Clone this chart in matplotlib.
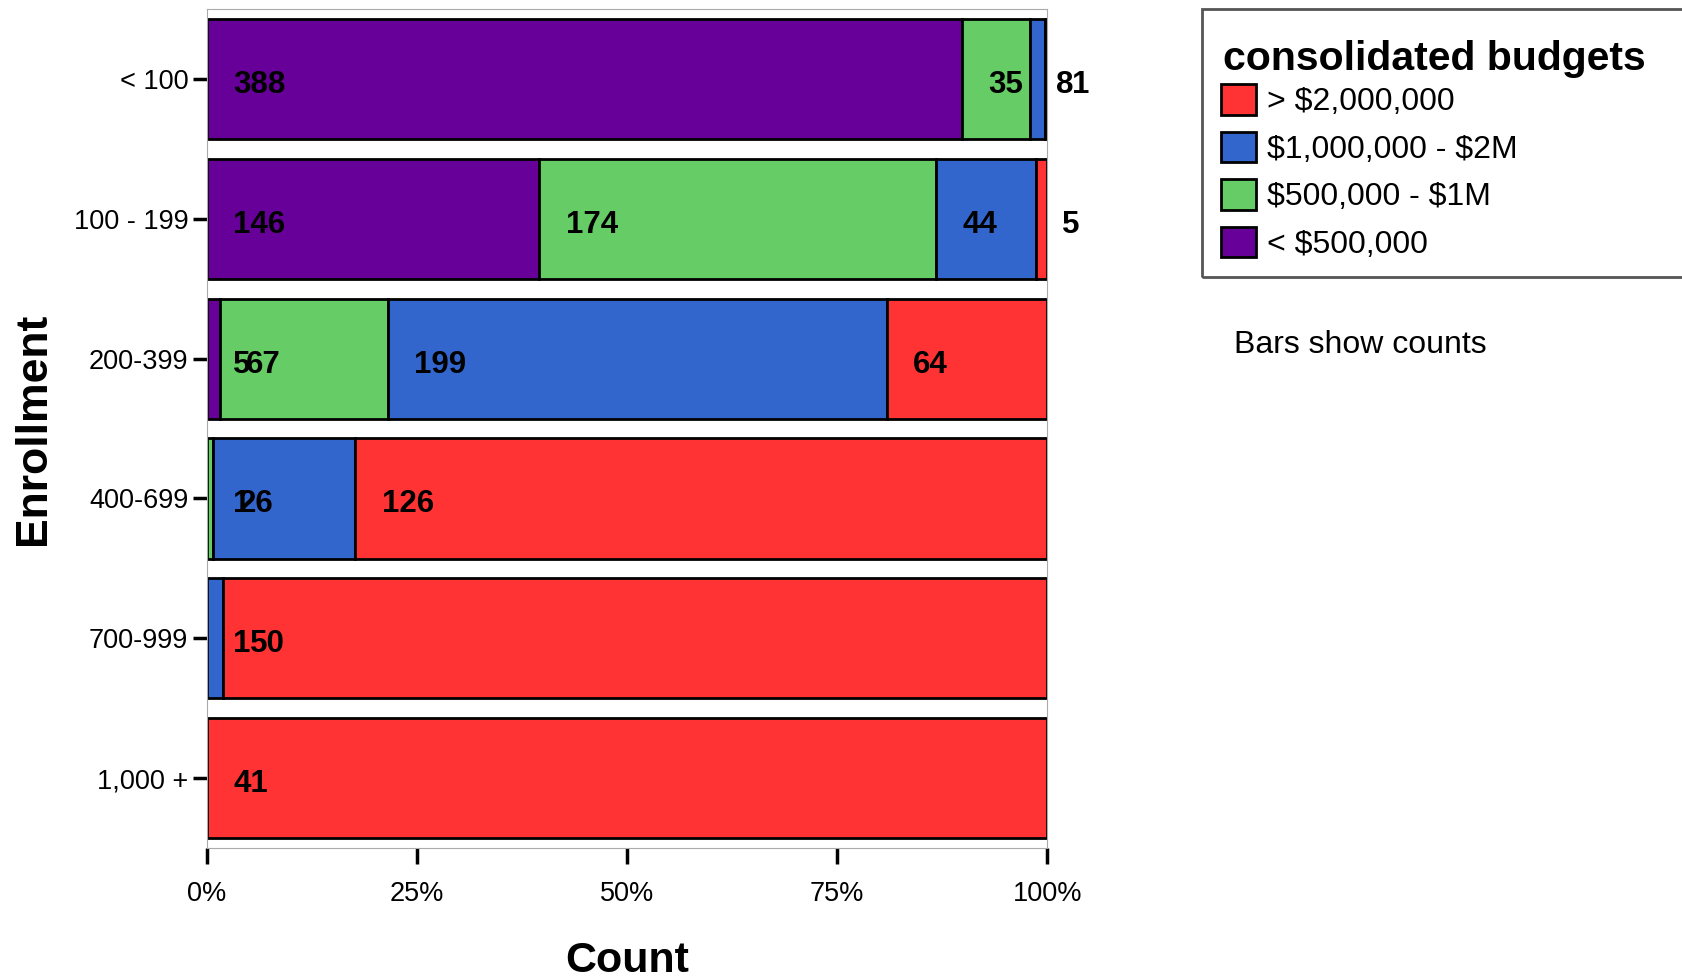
import numpy as np
import matplotlib
matplotlib.use('Agg')
import matplotlib.pyplot as plt
from matplotlib.patches import Patch, Rectangle

plt.rcParams['font.family'] = ['Liberation Sans', 'DejaVu Sans']

enrollment = ['< 100', '100 - 199', '200-399', '400-699', '700-999', '1,000 +']
# counts per budget level, one value per enrollment row
under_500k = [388, 146, 5, 0, 0, 0]
k500_1m = [35, 174, 67, 1, 0, 0]
m1_2m = [8, 44, 199, 26, 1, 0]
over_2m = [1, 5, 64, 126, 50, 41]

levels = [r'< \$500,000', r'\$500,000 - \$1M', r'\$1,000,000 - \$2M', r'> \$2,000,000']
colors = ['#660099', '#66CC66', '#3366CC', '#FF3333']
series = [under_500k, k500_1m, m1_2m, over_2m]

counts = np.array(series, dtype=float)
totals = counts.sum(axis=0)
shares = counts / totals

fig = plt.figure(figsize=(16.83, 9.8), dpi=100)
ax = fig.add_axes([0.123, 0.1347, 0.4993, 0.856])

y = np.arange(len(enrollment))
left = np.zeros(len(enrollment))
for k in range(len(series)):
    ax.barh(y, shares[k], left=left, height=0.86, color=colors[k],
            edgecolor='black', linewidth=2)
    for i in range(len(enrollment)):
        if counts[k, i] > 0:
            ax.annotate(str(int(counts[k, i])), xy=(left[i], y[i]),
                        xytext=(19, -4.3), textcoords='offset points',
                        ha='left', va='center', fontsize=22.5, fontweight='bold')
    left += shares[k]

ax.set_xlim(0, 1)
ax.set_ylim(len(enrollment) - 0.5, -0.5)
ax.set_yticks(y)
ax.set_yticklabels(enrollment, fontsize=19.5)
ax.set_xticks([0, 0.25, 0.5, 0.75, 1.0])
ax.set_xticklabels(['0%', '25%', '50%', '75%', '100%'], fontsize=19.5)
ax.tick_params(axis='x', length=11.5, width=2.5, pad=12)
ax.tick_params(axis='y', length=10, width=2.5, pad=3.5)
for s in ax.spines.values():
    s.set_color('#aaaaaa')
    s.set_linewidth(0.8)

ax.set_xlabel('Count', fontsize=31, fontweight='bold', labelpad=25)
ax.set_ylabel('Enrollment', fontsize=32, fontweight='bold', labelpad=14)

# legend frame runs off the right edge of the figure, as in the reference
fig.patches.append(Rectangle((1202 / 1683, 1 - 277 / 980), 0.4, 268 / 980,
                             transform=fig.transFigure, facecolor='none',
                             edgecolor='#555555', linewidth=2))
fig.text(1223 / 1683, 1 - 70 / 980, 'consolidated budgets', fontsize=29.5,
         fontweight='bold', ha='left', va='baseline')

handles = [Patch(facecolor=colors[k], edgecolor='black', linewidth=2)
           for k in [3, 2, 1, 0]]
labels = [levels[k] for k in [3, 2, 1, 0]]
leg = fig.legend(handles, labels, loc='upper left',
                 bbox_to_anchor=(1221 / 1683, 1 - 84 / 980),
                 fontsize=23, frameon=False,
                 handlelength=1.1, handleheight=1.1, handletextpad=0.35,
                 labelspacing=0.45, borderpad=0, borderaxespad=0)

fig.text(1234 / 1683, 1 - 345 / 980, 'Bars show counts', fontsize=23,
         ha='left', va='center')

fig.savefig('out.png', dpi=100)
